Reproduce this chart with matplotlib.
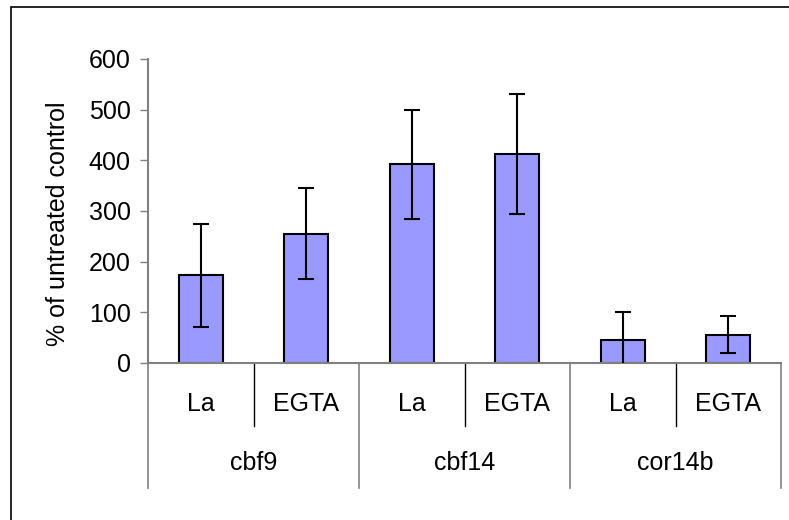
import matplotlib
matplotlib.use('Agg')
import matplotlib.pyplot as plt
from matplotlib.patches import Rectangle
import matplotlib.transforms as mtransforms

plt.rcParams['font.family'] = ['Liberation Sans', 'DejaVu Sans']

# data
genes = ['cbf9', 'cbf14', 'cor14b']
treatments = ['La', 'EGTA']
values = [173, 255, 392, 412, 45, 56]
errors = [102, 90, 107, 118, 56, 36]
y_ticks = [0, 100, 200, 300, 400, 500, 600]

W, H = 789, 520
fig = plt.figure(figsize=(W / 100, H / 100), dpi=100)
ax = fig.add_axes([148 / W, 1 - 363 / H, (781 - 148) / W, (363 - 59) / H])

n = len(values)
xs = [i + 0.5 for i in range(n)]
ax.bar(xs, values, width=0.42, color='#9999FF', edgecolor='black', linewidth=1.5, zorder=2)
ax.errorbar(xs, values, yerr=errors, fmt='none', ecolor='black', elinewidth=1.5,
            capsize=6, capthick=1.5, zorder=3)

ax.set_xlim(0, n)
ax.set_ylim(0, 600)
ax.set_yticks(y_ticks)
ax.tick_params(axis='y', direction='out', length=5.5, width=1, color='#808080', labelsize=18, pad=7)
ax.set_xticks([])
for side in ('top', 'right'):
    ax.spines[side].set_visible(False)
for side in ('left', 'bottom'):
    ax.spines[side].set_color('#808080')
    ax.spines[side].set_linewidth(1.5)

# y title placed where the original has it
fig.text(58 / W, 1 - 224 / H, '% of untreated control', rotation=90,
         ha='center', va='center', fontsize=18)

# multi-level category axis
trans = mtransforms.blended_transform_factory(ax.transData, ax.transAxes)
inner_len = -63 / 304
outer_len = -125 / 304
for i in range(n):
    ax.text(xs[i], -41 / 304, treatments[i % 2], transform=trans, ha='center', va='center', fontsize=18)
for g in range(len(genes) + 1):
    ax.plot([2 * g, 2 * g], [0, outer_len], transform=trans, color='#808080', lw=1.2, clip_on=False)
for g, name in enumerate(genes):
    ax.plot([2 * g + 1, 2 * g + 1], [0, inner_len], transform=trans, color='black', lw=1, clip_on=False)
    ax.text(2 * g + 1, -100 / 304, name, transform=trans, ha='center', va='center', fontsize=18)

# outer chart frame
fig.patches.append(Rectangle((11 / W, -0.1), 2, 1 - 7 / H + 0.1, transform=fig.transFigure,
                             fill=False, edgecolor='black', linewidth=1.2))

fig.savefig('out.png', dpi=100)
